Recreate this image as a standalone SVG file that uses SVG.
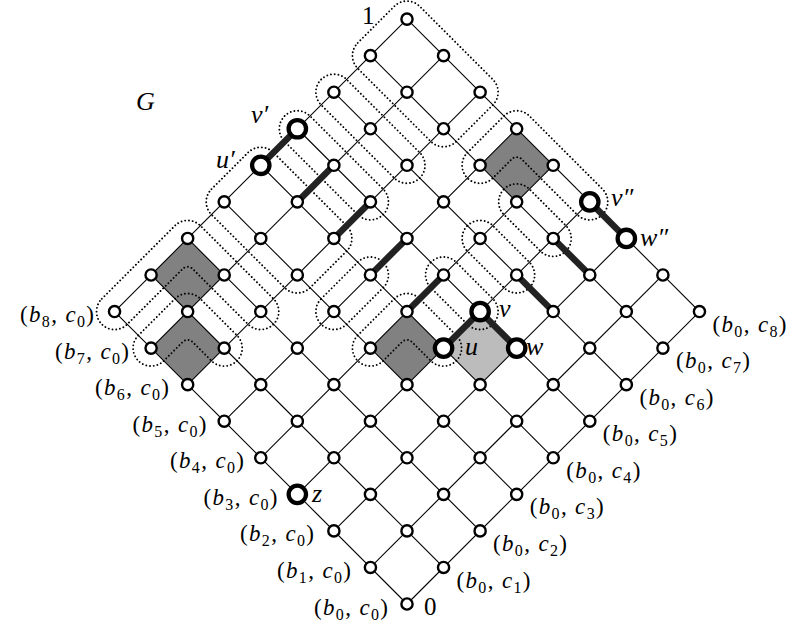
<svg xmlns="http://www.w3.org/2000/svg" width="787" height="625" viewBox="0 0 787 625">
<style>
.e{stroke:#000;stroke-width:1.1;fill:none}
.t{stroke:#222;stroke-width:6.5;stroke-linecap:butt}
.n{fill:#fff;stroke:#000;stroke-width:2.4}
.N{fill:#fff;stroke:#000;stroke-width:4.3}
.d{fill:none;stroke:#000;stroke-width:1.9;stroke-dasharray:0.01 3.7;stroke-linecap:round}
.dk{fill:#818181}
.lt{fill:#bcbcbc}
text{font-family:"Liberation Serif","DejaVu Serif",serif;font-size:23px;fill:#000}
.i{font-style:italic}
.s{font-size:16px;font-style:normal}
.big{font-size:26px;font-style:italic}
.num{font-size:25px}
</style>
<rect width="787" height="625" fill="#fff"/>
<g transform="translate(407 604) rotate(-45)">
<g id="cells">
<rect class="dk" x="51.7" y="-413.6" width="51.7" height="51.7"/>
<rect class="dk" x="0" y="-361.9" width="51.7" height="51.7"/>
<rect class="dk" x="361.9" y="-258.5" width="51.7" height="51.7"/>
<rect class="dk" x="155.1" y="-206.8" width="51.7" height="51.7"/>
<rect class="lt" x="206.8" y="-155.1" width="51.7" height="51.7"/>
</g>
<g id="blocks">
<path class="d" d="M0,-431.6 L103.4,-431.6 A18 18 0 0 1 121.4,-413.6 L121.4,-310.2 A18 18 0 0 1 85.4,-310.2 L85.4,-388.6 A7 7 0 0 0 78.4,-395.6 L0,-395.6 A18 18 0 0 1 0,-431.6 Z"/>
<path class="d" d="M0,-379.9 L51.7,-379.9 A18 18 0 0 1 69.7,-361.9 L69.7,-310.2 A18 18 0 0 1 33.7,-310.2 L33.7,-336.9 A7 7 0 0 0 26.7,-343.9 L0,-343.9 A18 18 0 0 1 0,-379.9 Z"/>
<rect class="d" x="137.1" y="-431.6" width="87.7" height="139.4" rx="18"/>
<rect class="d" x="240.5" y="-431.6" width="36" height="139.4" rx="18"/>
<rect class="d" x="292.2" y="-431.6" width="36" height="139.4" rx="18"/>
<rect class="d" x="343.9" y="-431.6" width="87.7" height="139.4" rx="18"/>
<rect class="d" x="137.1" y="-276.5" width="87.7" height="36" rx="18"/>
<path class="d" d="M155.1,-224.8 L206.8,-224.8 A18 18 0 0 1 224.8,-206.8 L224.8,-155.1 A18 18 0 0 1 188.8,-155.1 L188.8,-181.8 A7 7 0 0 0 181.8,-188.8 L155.1,-188.8 A18 18 0 0 1 155.1,-224.8 Z"/>
<rect class="d" x="240.5" y="-224.8" width="36" height="87.7" rx="18"/>
<rect class="d" x="292.2" y="-224.8" width="36" height="87.7" rx="18"/>
<rect class="d" x="343.9" y="-224.8" width="36" height="87.7" rx="18"/>
<path class="d" d="M361.9,-276.5 L413.6,-276.5 A18 18 0 0 1 431.6,-258.5 L431.6,-155.1 A18 18 0 0 1 395.6,-155.1 L395.6,-233.5 A7 7 0 0 0 388.6,-240.5 L361.9,-240.5 A18 18 0 0 1 361.9,-276.5 Z"/>
</g>
<g id="edges">
<line class="e" x1="0" y1="0" x2="413.6" y2="0"/>
<line class="e" x1="0" y1="-51.7" x2="413.6" y2="-51.7"/>
<line class="e" x1="0" y1="-103.4" x2="413.6" y2="-103.4"/>
<line class="e" x1="0" y1="-155.1" x2="413.6" y2="-155.1"/>
<line class="e" x1="0" y1="-206.8" x2="413.6" y2="-206.8"/>
<line class="e" x1="0" y1="-258.5" x2="413.6" y2="-258.5"/>
<line class="e" x1="0" y1="-310.2" x2="413.6" y2="-310.2"/>
<line class="e" x1="0" y1="-361.9" x2="413.6" y2="-361.9"/>
<line class="e" x1="0" y1="-413.6" x2="413.6" y2="-413.6"/>
<line class="e" x1="0" y1="0" x2="0" y2="-413.6"/>
<line class="e" x1="51.7" y1="0" x2="51.7" y2="-413.6"/>
<line class="e" x1="103.4" y1="0" x2="103.4" y2="-413.6"/>
<line class="e" x1="155.1" y1="0" x2="155.1" y2="-413.6"/>
<line class="e" x1="206.8" y1="0" x2="206.8" y2="-413.6"/>
<line class="e" x1="258.5" y1="0" x2="258.5" y2="-413.6"/>
<line class="e" x1="310.2" y1="0" x2="310.2" y2="-413.6"/>
<line class="e" x1="361.9" y1="0" x2="361.9" y2="-413.6"/>
<line class="e" x1="413.6" y1="0" x2="413.6" y2="-413.6"/>
<line class="t" x1="206.8" y1="-413.6" x2="258.5" y2="-413.6"/>
<line class="t" x1="206.8" y1="-361.9" x2="258.5" y2="-361.9"/>
<line class="t" x1="206.8" y1="-310.2" x2="258.5" y2="-310.2"/>
<line class="t" x1="206.8" y1="-258.5" x2="258.5" y2="-258.5"/>
<line class="t" x1="206.8" y1="-206.8" x2="258.5" y2="-206.8"/>
<line class="t" x1="206.8" y1="-155.1" x2="258.5" y2="-155.1"/>
<line class="t" x1="258.5" y1="-103.4" x2="258.5" y2="-155.1"/>
<line class="t" x1="310.2" y1="-103.4" x2="310.2" y2="-155.1"/>
<line class="t" x1="361.9" y1="-103.4" x2="361.9" y2="-155.1"/>
<line class="t" x1="413.6" y1="-103.4" x2="413.6" y2="-155.1"/>
</g>
<g id="nodes">
<g id="n00"><circle class="n" cx="0" cy="0" r="5.6"/></g>
<g id="n01"><circle class="n" cx="51.7" cy="0" r="5.6"/></g>
<g id="n02"><circle class="n" cx="103.4" cy="0" r="5.6"/></g>
<g id="n03"><circle class="n" cx="155.1" cy="0" r="5.6"/></g>
<g id="n04"><circle class="n" cx="206.8" cy="0" r="5.6"/></g>
<g id="n05"><circle class="n" cx="258.5" cy="0" r="5.6"/></g>
<g id="n06"><circle class="n" cx="310.2" cy="0" r="5.6"/></g>
<g id="n07"><circle class="n" cx="361.9" cy="0" r="5.6"/></g>
<g id="n08"><circle class="n" cx="413.6" cy="0" r="5.6"/></g>
<g id="n10"><circle class="n" cx="0" cy="-51.7" r="5.6"/></g>
<g id="n11"><circle class="n" cx="51.7" cy="-51.7" r="5.6"/></g>
<g id="n12"><circle class="n" cx="103.4" cy="-51.7" r="5.6"/></g>
<g id="n13"><circle class="n" cx="155.1" cy="-51.7" r="5.6"/></g>
<g id="n14"><circle class="n" cx="206.8" cy="-51.7" r="5.6"/></g>
<g id="n15"><circle class="n" cx="258.5" cy="-51.7" r="5.6"/></g>
<g id="n16"><circle class="n" cx="310.2" cy="-51.7" r="5.6"/></g>
<g id="n17"><circle class="n" cx="361.9" cy="-51.7" r="5.6"/></g>
<g id="n18"><circle class="n" cx="413.6" cy="-51.7" r="5.6"/></g>
<g id="n20"><circle class="n" cx="0" cy="-103.4" r="5.6"/></g>
<g id="n21"><circle class="n" cx="51.7" cy="-103.4" r="5.6"/></g>
<g id="n22"><circle class="n" cx="103.4" cy="-103.4" r="5.6"/></g>
<g id="n23"><circle class="n" cx="155.1" cy="-103.4" r="5.6"/></g>
<g id="n24"><circle class="n" cx="206.8" cy="-103.4" r="5.6"/></g>
<g id="n25"><circle class="N" cx="258.5" cy="-103.4" r="8.7"/></g>
<g id="n26"><circle class="n" cx="310.2" cy="-103.4" r="5.6"/></g>
<g id="n27"><circle class="n" cx="361.9" cy="-103.4" r="5.6"/></g>
<g id="n28"><circle class="N" cx="413.6" cy="-103.4" r="8.7"/></g>
<g id="n30"><circle class="N" cx="0" cy="-155.1" r="8.7"/></g>
<g id="n31"><circle class="n" cx="51.7" cy="-155.1" r="5.6"/></g>
<g id="n32"><circle class="n" cx="103.4" cy="-155.1" r="5.6"/></g>
<g id="n33"><circle class="n" cx="155.1" cy="-155.1" r="5.6"/></g>
<g id="n34"><circle class="N" cx="206.8" cy="-155.1" r="8.7"/></g>
<g id="n35"><circle class="N" cx="258.5" cy="-155.1" r="8.7"/></g>
<g id="n36"><circle class="n" cx="310.2" cy="-155.1" r="5.6"/></g>
<g id="n37"><circle class="n" cx="361.9" cy="-155.1" r="5.6"/></g>
<g id="n38"><circle class="N" cx="413.6" cy="-155.1" r="8.7"/></g>
<g id="n40"><circle class="n" cx="0" cy="-206.8" r="5.6"/></g>
<g id="n41"><circle class="n" cx="51.7" cy="-206.8" r="5.6"/></g>
<g id="n42"><circle class="n" cx="103.4" cy="-206.8" r="5.6"/></g>
<g id="n43"><circle class="n" cx="155.1" cy="-206.8" r="5.6"/></g>
<g id="n44"><circle class="n" cx="206.8" cy="-206.8" r="5.6"/></g>
<g id="n45"><circle class="n" cx="258.5" cy="-206.8" r="5.6"/></g>
<g id="n46"><circle class="n" cx="310.2" cy="-206.8" r="5.6"/></g>
<g id="n47"><circle class="n" cx="361.9" cy="-206.8" r="5.6"/></g>
<g id="n48"><circle class="n" cx="413.6" cy="-206.8" r="5.6"/></g>
<g id="n50"><circle class="n" cx="0" cy="-258.5" r="5.6"/></g>
<g id="n51"><circle class="n" cx="51.7" cy="-258.5" r="5.6"/></g>
<g id="n52"><circle class="n" cx="103.4" cy="-258.5" r="5.6"/></g>
<g id="n53"><circle class="n" cx="155.1" cy="-258.5" r="5.6"/></g>
<g id="n54"><circle class="n" cx="206.8" cy="-258.5" r="5.6"/></g>
<g id="n55"><circle class="n" cx="258.5" cy="-258.5" r="5.6"/></g>
<g id="n56"><circle class="n" cx="310.2" cy="-258.5" r="5.6"/></g>
<g id="n57"><circle class="n" cx="361.9" cy="-258.5" r="5.6"/></g>
<g id="n58"><circle class="n" cx="413.6" cy="-258.5" r="5.6"/></g>
<g id="n60"><circle class="n" cx="0" cy="-310.2" r="5.6"/></g>
<g id="n61"><circle class="n" cx="51.7" cy="-310.2" r="5.6"/></g>
<g id="n62"><circle class="n" cx="103.4" cy="-310.2" r="5.6"/></g>
<g id="n63"><circle class="n" cx="155.1" cy="-310.2" r="5.6"/></g>
<g id="n64"><circle class="n" cx="206.8" cy="-310.2" r="5.6"/></g>
<g id="n65"><circle class="n" cx="258.5" cy="-310.2" r="5.6"/></g>
<g id="n66"><circle class="n" cx="310.2" cy="-310.2" r="5.6"/></g>
<g id="n67"><circle class="n" cx="361.9" cy="-310.2" r="5.6"/></g>
<g id="n68"><circle class="n" cx="413.6" cy="-310.2" r="5.6"/></g>
<g id="n70"><circle class="n" cx="0" cy="-361.9" r="5.6"/></g>
<g id="n71"><circle class="n" cx="51.7" cy="-361.9" r="5.6"/></g>
<g id="n72"><circle class="n" cx="103.4" cy="-361.9" r="5.6"/></g>
<g id="n73"><circle class="n" cx="155.1" cy="-361.9" r="5.6"/></g>
<g id="n74"><circle class="n" cx="206.8" cy="-361.9" r="5.6"/></g>
<g id="n75"><circle class="n" cx="258.5" cy="-361.9" r="5.6"/></g>
<g id="n76"><circle class="n" cx="310.2" cy="-361.9" r="5.6"/></g>
<g id="n77"><circle class="n" cx="361.9" cy="-361.9" r="5.6"/></g>
<g id="n78"><circle class="n" cx="413.6" cy="-361.9" r="5.6"/></g>
<g id="n80"><circle class="n" cx="0" cy="-413.6" r="5.6"/></g>
<g id="n81"><circle class="n" cx="51.7" cy="-413.6" r="5.6"/></g>
<g id="n82"><circle class="n" cx="103.4" cy="-413.6" r="5.6"/></g>
<g id="n83"><circle class="n" cx="155.1" cy="-413.6" r="5.6"/></g>
<g id="n84"><circle class="N" cx="206.8" cy="-413.6" r="8.7"/></g>
<g id="n85"><circle class="N" cx="258.5" cy="-413.6" r="8.7"/></g>
<g id="n86"><circle class="n" cx="310.2" cy="-413.6" r="5.6"/></g>
<g id="n87"><circle class="n" cx="361.9" cy="-413.6" r="5.6"/></g>
<g id="n88"><circle class="n" cx="413.6" cy="-413.6" r="5.6"/></g>
</g>
</g>
<g id="labels">
<text class="big" x="136" y="110">G</text>
<text class="num" x="362" y="24">1</text>
<text class="num" x="424" y="615">0</text>
<text class="big" x="251" y="123">v′</text>
<text class="big" x="216" y="168">u′</text>
<text class="big" x="611" y="206">v″</text>
<text class="big" x="640" y="246">w″</text>
<text class="big" x="499" y="317">v</text>
<text class="big" x="465" y="355">u</text>
<text class="big" x="526" y="355">w</text>
<text class="big" x="312" y="502">z</text>
<text x="388" y="614.5" text-anchor="end" textLength="74" lengthAdjust="spacing">(<tspan class="i">b</tspan><tspan class="s" dy="5">0</tspan><tspan dy="-5">, </tspan><tspan class="i">c</tspan><tspan class="s" dy="5">0</tspan><tspan dy="-5">)</tspan></text>
<text x="351" y="578" text-anchor="end" textLength="74" lengthAdjust="spacing">(<tspan class="i">b</tspan><tspan class="s" dy="5">1</tspan><tspan dy="-5">, </tspan><tspan class="i">c</tspan><tspan class="s" dy="5">0</tspan><tspan dy="-5">)</tspan></text>
<text x="314" y="541.4" text-anchor="end" textLength="74" lengthAdjust="spacing">(<tspan class="i">b</tspan><tspan class="s" dy="5">2</tspan><tspan dy="-5">, </tspan><tspan class="i">c</tspan><tspan class="s" dy="5">0</tspan><tspan dy="-5">)</tspan></text>
<text x="277.5" y="504.8" text-anchor="end" textLength="74" lengthAdjust="spacing">(<tspan class="i">b</tspan><tspan class="s" dy="5">3</tspan><tspan dy="-5">, </tspan><tspan class="i">c</tspan><tspan class="s" dy="5">0</tspan><tspan dy="-5">)</tspan></text>
<text x="244" y="468.2" text-anchor="end" textLength="74" lengthAdjust="spacing">(<tspan class="i">b</tspan><tspan class="s" dy="5">4</tspan><tspan dy="-5">, </tspan><tspan class="i">c</tspan><tspan class="s" dy="5">0</tspan><tspan dy="-5">)</tspan></text>
<text x="206.5" y="431.7" text-anchor="end" textLength="74" lengthAdjust="spacing">(<tspan class="i">b</tspan><tspan class="s" dy="5">5</tspan><tspan dy="-5">, </tspan><tspan class="i">c</tspan><tspan class="s" dy="5">0</tspan><tspan dy="-5">)</tspan></text>
<text x="169" y="395.1" text-anchor="end" textLength="74" lengthAdjust="spacing">(<tspan class="i">b</tspan><tspan class="s" dy="5">6</tspan><tspan dy="-5">, </tspan><tspan class="i">c</tspan><tspan class="s" dy="5">0</tspan><tspan dy="-5">)</tspan></text>
<text x="129" y="358.6" text-anchor="end" textLength="74" lengthAdjust="spacing">(<tspan class="i">b</tspan><tspan class="s" dy="5">7</tspan><tspan dy="-5">, </tspan><tspan class="i">c</tspan><tspan class="s" dy="5">0</tspan><tspan dy="-5">)</tspan></text>
<text x="94" y="322" text-anchor="end" textLength="74" lengthAdjust="spacing">(<tspan class="i">b</tspan><tspan class="s" dy="5">8</tspan><tspan dy="-5">, </tspan><tspan class="i">c</tspan><tspan class="s" dy="5">0</tspan><tspan dy="-5">)</tspan></text>
<text x="456.5" y="587.5" textLength="74" lengthAdjust="spacing">(<tspan class="i">b</tspan><tspan class="s" dy="5">0</tspan><tspan dy="-5">, </tspan><tspan class="i">c</tspan><tspan class="s" dy="5">1</tspan><tspan dy="-5">)</tspan></text>
<text x="493" y="551" textLength="74" lengthAdjust="spacing">(<tspan class="i">b</tspan><tspan class="s" dy="5">0</tspan><tspan dy="-5">, </tspan><tspan class="i">c</tspan><tspan class="s" dy="5">2</tspan><tspan dy="-5">)</tspan></text>
<text x="529.7" y="514.3" textLength="74" lengthAdjust="spacing">(<tspan class="i">b</tspan><tspan class="s" dy="5">0</tspan><tspan dy="-5">, </tspan><tspan class="i">c</tspan><tspan class="s" dy="5">3</tspan><tspan dy="-5">)</tspan></text>
<text x="566.3" y="477.8" textLength="74" lengthAdjust="spacing">(<tspan class="i">b</tspan><tspan class="s" dy="5">0</tspan><tspan dy="-5">, </tspan><tspan class="i">c</tspan><tspan class="s" dy="5">4</tspan><tspan dy="-5">)</tspan></text>
<text x="602.8" y="441.2" textLength="74" lengthAdjust="spacing">(<tspan class="i">b</tspan><tspan class="s" dy="5">0</tspan><tspan dy="-5">, </tspan><tspan class="i">c</tspan><tspan class="s" dy="5">5</tspan><tspan dy="-5">)</tspan></text>
<text x="639.4" y="404.6" textLength="74" lengthAdjust="spacing">(<tspan class="i">b</tspan><tspan class="s" dy="5">0</tspan><tspan dy="-5">, </tspan><tspan class="i">c</tspan><tspan class="s" dy="5">6</tspan><tspan dy="-5">)</tspan></text>
<text x="676" y="368" textLength="74" lengthAdjust="spacing">(<tspan class="i">b</tspan><tspan class="s" dy="5">0</tspan><tspan dy="-5">, </tspan><tspan class="i">c</tspan><tspan class="s" dy="5">7</tspan><tspan dy="-5">)</tspan></text>
<text x="712.5" y="331.5" textLength="74" lengthAdjust="spacing">(<tspan class="i">b</tspan><tspan class="s" dy="5">0</tspan><tspan dy="-5">, </tspan><tspan class="i">c</tspan><tspan class="s" dy="5">8</tspan><tspan dy="-5">)</tspan></text>
</g>
</svg>
